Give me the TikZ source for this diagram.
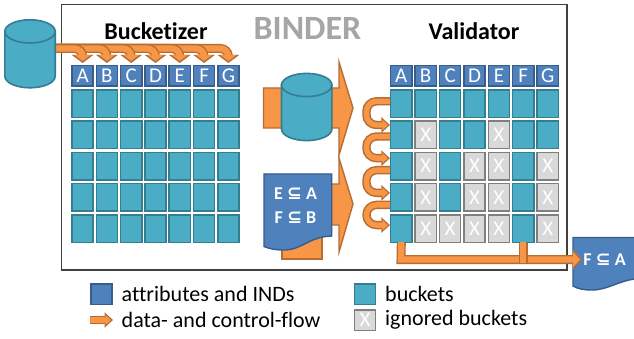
\documentclass[tikz,border=0pt]{standalone}
\usepackage{fontspec}
\setmainfont{Carlito}[Ligatures=NoCommon]
\newfontfamily\symfont{DejaVu Sans}[BoldFont={DejaVu Sans Bold}]
\usetikzlibrary{arrows.meta,calc}
\definecolor{teal}{HTML}{4BACC6}
\definecolor{tealD}{HTML}{357D91}
\definecolor{blueF}{HTML}{4F81BD}
\definecolor{blueD}{HTML}{385D8A}
\definecolor{orangeF}{HTML}{F79646}
\definecolor{orangeD}{HTML}{B66D31}
\definecolor{grayF}{HTML}{D9D9D9}
\definecolor{grayD}{HTML}{7F7F7F}
\tikzset{
  cellbase/.style={rectangle,inner sep=0pt,minimum width=21.2pt,minimum height=27.5pt,line width=1.5pt,font=\fontsize{21}{21}\selectfont,text=white},
  bucket/.style={cellbase,fill=teal,draw=tealD},
  ignored/.style={cellbase,fill=grayF,draw=grayD},
  attr/.style={cellbase,fill=blueF,draw=blueD,minimum height=20.5pt},
  flowo/.style={line width=9pt,draw=orangeD,rounded corners=8pt,-{Triangle[length=8pt,width=21pt]},shorten >=0pt},
  flowi/.style={line width=6.2pt,draw=orangeF,rounded corners=8pt,-{Triangle[length=6pt,width=15.5pt]},shorten >=2pt},
  loopo/.style={line width=8.4pt,draw=orangeD,rounded corners=10pt,-{Triangle[length=8.5pt,width=15pt]},shorten >=0pt},
  loopi/.style={line width=5.4pt,draw=orangeF,rounded corners=10pt,-{Triangle[length=5.5pt,width=10pt]},shorten >=2pt},
  bigflow/.style={fill=orangeF,draw=orangeD,line width=1.4pt,line join=miter},
  dbstyle/.style={fill=teal,draw=tealD,line width=1.6pt},
  docstyle/.style={fill=blueF,draw=blueD,line width=1.4pt},
  title/.style={font=\bfseries\fontsize{24}{24}\selectfont,inner sep=0pt},
  legend/.style={font=\fontsize{22}{22}\selectfont,inner sep=0pt,anchor=west},
  doctext/.style={font=\bfseries\fontsize{18}{18}\selectfont,text=white,inner sep=0pt}
}
\newcommand{\flowpath}[1]{\draw[flowo] #1; \draw[flowi] #1;}
\newcommand{\looppath}[1]{\draw[loopo] #1; \draw[loopi] #1;}
\newcommand{\sbs}{{\symfont\bfseries\char"2286}}
\newcommand{\dbcyl}[3]{% cx, top-centre y, bottom-centre y
  \draw[dbstyle] (#1-25.2,#2) -- (#1-25.2,#3) arc[start angle=180,end angle=0,x radius=25.2,y radius=11.6] -- (#1+25.2,#2) -- cycle;
  \draw[dbstyle] (#1,#2) ellipse[x radius=25.2,y radius=11.6];
}
\begin{document}
\begin{tikzpicture}[x=1pt,y=-1pt]
\useasboundingbox (0,0) rectangle (634,339);
\fill[white] (0,0) rectangle (634,339);
\draw[draw=black!75,line width=1.2pt] (61.5,4.5) rectangle (567,270);

\node[title] (tb) at (156,31) {Bucketizer};
\node[title] (tv) at (474,31) {Validator};
\node[title,font=\bfseries\fontsize{34}{34}\selectfont,text=black!35] (tm) at (307.5,28.5) {BINDER};

% left grid
\foreach \c [count=\i from 0] in {A,B,C,D,E,F,G}{
  \node[attr] (h\c) at (82.6+24.3*\i,76) {\c};
  \foreach \r in {1,...,5}{
    \node[bucket] (l\r\c) at (82.6+24.3*\i,72.6+31.2*\r) {};
  }
}
% right grid
\foreach \c [count=\i from 0] in {A,B,C,D,E,F,G}{
  \node[attr] (k\c) at (401.3+24.4*\i,76) {\c};
}
\foreach \r/\c/\i in {1/A/0,1/B/1,1/C/2,1/D/3,1/E/4,1/F/5,1/G/6,
  2/A/0,2/C/2,2/D/3,2/F/5,2/G/6,
  3/A/0,3/C/2,3/F/5,
  4/A/0,4/C/2,4/F/5,
  5/A/0,5/F/5}{
  \node[bucket] (r\r\c) at (401.3+24.4*\i,72.6+31.2*\r) {};
}
\foreach \r/\c/\i in {2/B/1,2/E/4,
  3/B/1,3/D/3,3/E/4,3/G/6,
  4/B/1,4/D/3,4/E/4,4/G/6,
  5/B/1,5/C/2,5/D/3,5/E/4,5/G/6}{
  \node[ignored] (r\r\c) at (401.3+24.4*\i,72.6+31.2*\r) {X};
}

% left database and its feed
\coordinate (feed) at (54,48.5);
\foreach \c in {G,F,E,D,C,B,A}{
  \flowpath{(feed) -- (feed -| h\c.north) -- ([yshift=2pt]h\c.north)}
}
\dbcyl{30}{31.4}{76.2}

% big arrows
\draw[bigflow] (263.5,88) -- (339,88) -- (339,62) -- (353,108) -- (339,155) -- (339,128) -- (263.5,128) -- cycle;
\dbcyl{306.7}{85}{129}
\draw[bigflow] (282,200) rectangle (322,259);
\draw[bigflow] (300,184) -- (339,184) -- (339,158) -- (353,204) -- (339,252) -- (339,225) -- (300,225) -- cycle;
\draw[docstyle] (264,174) -- (331.7,174) -- (331.7,236) .. controls (308,237) and (302,250) .. (284,250) .. controls (276,250) and (270,249) .. (264,246.5) -- cycle;
\node[doctext] (d1) at (295.5,194) {E \sbs{} A};
\node[doctext] (d2) at (295.5,217.7) {F \sbs{} B};

% loop arrows of the validator
\looppath{([yshift=2.5pt]r1A.west) -- ++(-23.5,0) |- ([yshift=10pt]r2A.west)}
\looppath{([yshift=-1.5pt]r2A.west) -- ++(-23.5,0) |- ([yshift=8pt]r3A.west)}
\looppath{([yshift=-4pt]r3A.west) -- ++(-23.5,0) |- ([yshift=4.5pt]r4A.west)}
\looppath{([yshift=-7.5pt]r4A.west) -- ++(-23.5,0) |- ([yshift=3.5pt]r5A.west)}

% output document and result arrow
\coordinate (outc) at (401,259.5);
\draw[docstyle] (573,237.5) -- (636,237.5) -- (636,279) .. controls (620,280) and (608,290) .. (592,290) .. controls (584,290) and (578,289) .. (573,286) -- cycle;
\node[doctext] (d3) at (604.5,260) {F \sbs{} A};
\draw[line width=9pt,draw=orangeD,-{Triangle[length=9pt,width=20pt]}] (r5A.south) -- (outc) -- (582,259.5);
\draw[line width=6.2pt,draw=orangeF,-{Triangle[length=7pt,width=15pt]},shorten >=2pt] ([yshift=1pt]r5A.south) -- (outc) -- (582,259.5);
\draw[line width=9pt,draw=orangeD] (r5F.south) -- (r5F.south |- 0,264);
\draw[line width=6.2pt,draw=orangeF] ([yshift=1pt]r5F.south) -- (r5F.south |- 0,262.5);

% legend
\node[attr,minimum height=20.5pt] (lg1) at (101.4,294) {};
\node[legend] (lt1) at (121.5,294) {attributes and INDs};
\node[bucket,minimum height=20.5pt] (lg2) at (365,294) {};
\node[legend] (lt2) at (385,294) {buckets};
\coordinate (la) at (90,320);
\coordinate (lb) at (113,320);
\looppath{(la) -- (lb)}
\node[legend] (lt3) at (121.5,320) {data- and control-flow};
\node[ignored,minimum height=20.5pt] (lg4) at (365,320) {X};
\node[legend] (lt4) at (385,320) {ignored buckets};
\end{tikzpicture}
\end{document}
